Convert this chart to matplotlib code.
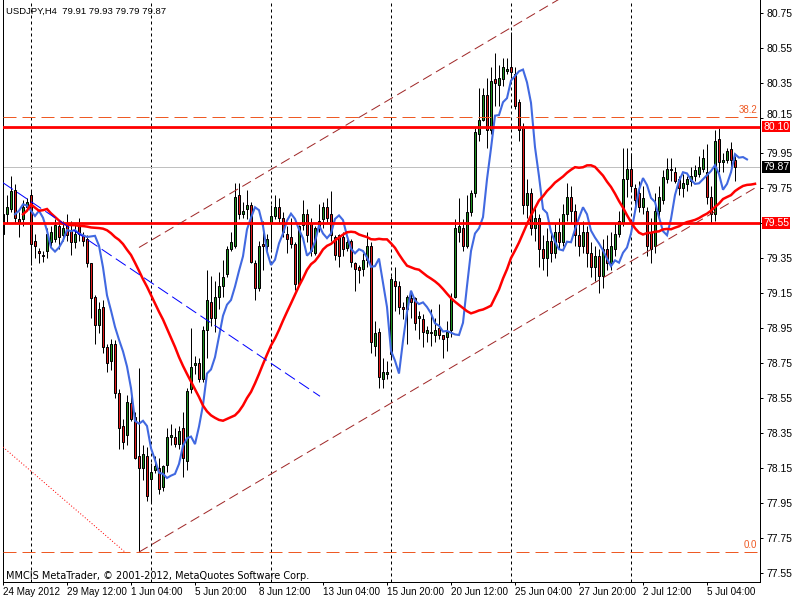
import matplotlib
matplotlib.use("Agg")
import matplotlib.pyplot as plt
import matplotlib.transforms as mtransforms
import pandas as pd

plt.rcParams["font.family"] = ["Liberation Sans", "DejaVu Sans"]

# chart texts
symbol_info = "USDJPY,H4  79.91 79.93 79.79 79.87"
copyright_text = "MMCIS MetaTrader, \u00a9 2001-2012, MetaQuotes Software Corp."

# H4 candles, 24 May 2012 20:00 .. 6 Jul 2012 08:00
opens = [
    79.49, 79.60, 79.63, 79.74, 79.57, 79.57, 79.64, 79.71, 79.45, 79.39,
    79.37, 79.39, 79.44, 79.46, 79.53, 79.48, 79.54, 79.51, 79.44, 79.54,
    79.48, 79.46, 79.32, 79.13, 78.97, 79.07, 78.84, 78.76, 78.86, 78.58,
    78.39, 78.34, 78.52, 78.44, 78.22, 78.15, 78.22, 78.09, 78.14, 78.15,
    78.04, 78.17, 78.33, 78.33, 78.29, 78.38, 78.19, 78.60, 78.74, 78.75,
    78.66, 78.94, 79.10, 79.01, 79.13, 79.19, 79.26, 79.40, 79.42, 79.71,
    79.60, 79.63, 79.65, 79.32, 79.18, 79.43, 79.42, 79.55, 79.59, 79.64,
    79.58, 79.49, 79.47, 79.43, 79.20, 79.54, 79.60, 79.55, 79.38, 79.52,
    79.57, 79.64, 79.60, 79.47, 79.48, 79.47, 79.41, 79.45, 79.32, 79.30,
    79.29, 79.34, 79.42, 78.85, 78.93, 78.66, 78.69, 78.80, 79.22, 79.19,
    79.07, 79.06, 79.12, 79.12, 79.01, 79.00, 78.92, 78.93, 78.91, 78.95,
    78.91, 78.90, 78.94, 79.13, 79.50, 79.52, 79.42, 79.61, 79.72, 80.06,
    80.14, 80.28, 80.08, 80.37, 80.34, 80.37, 80.42, 80.44, 80.40, 80.24,
    80.09, 79.65, 79.72, 79.52, 79.58, 79.40, 79.35, 79.45, 79.38, 79.50,
    79.44, 79.60, 79.70, 79.62, 79.48, 79.42, 79.50, 79.38, 79.30, 79.36,
    79.25, 79.40, 79.32, 79.40, 79.49, 79.55, 79.80, 79.86, 79.75, 79.72,
    79.64, 79.62, 79.50, 79.42, 79.62, 79.68, 79.80, 79.86, 79.84, 79.80,
    79.75, 79.77, 79.79, 79.82, 79.83, 79.86, 79.84, 79.70, 79.60, 80.03,
    79.90, 79.91, 79.97, 79.91,
]
highs = [
    79.65, 79.71, 79.82, 79.77, 79.61, 79.68, 79.69, 79.74, 79.49, 79.41,
    79.39, 79.52, 79.53, 79.57, 79.56, 79.56, 79.60, 79.56, 79.55, 79.58,
    79.50, 79.48, 79.32, 79.14, 79.10, 79.11, 78.86, 78.89, 78.88, 78.60,
    78.43, 78.57, 78.58, 78.47, 78.72, 78.28, 78.27, 78.18, 78.22, 78.21,
    78.17, 78.38, 78.40, 78.38, 78.39, 78.47, 78.61, 78.95, 78.79, 78.78,
    78.96, 79.28, 79.25, 79.22, 79.27, 79.34, 79.42, 79.50, 79.78, 79.78,
    79.67, 79.74, 79.67, 79.34, 79.45, 79.56, 79.49, 79.65, 79.71, 79.69,
    79.61, 79.53, 79.58, 79.44, 79.54, 79.68, 79.63, 79.58, 79.53, 79.66,
    79.67, 79.69, 79.73, 79.48, 79.49, 79.50, 79.46, 79.46, 79.33, 79.31,
    79.38, 79.50, 79.44, 78.99, 78.95, 78.78, 78.76, 79.25, 79.30, 79.22,
    79.10, 79.14, 79.16, 79.13, 79.05, 79.03, 78.96, 79.06, 79.01, 79.09,
    78.91, 78.99, 79.15, 79.57, 79.69, 79.57, 79.71, 79.74, 80.09, 80.32,
    80.32, 80.38, 80.44, 80.52, 80.45, 80.49, 80.49, 80.64, 80.44, 80.26,
    80.12, 79.80, 79.75, 79.64, 79.60, 79.48, 79.52, 79.50, 79.55, 79.58,
    79.66, 79.78, 79.76, 79.66, 79.55, 79.56, 79.53, 79.44, 79.42, 79.40,
    79.46, 79.48, 79.50, 79.55, 79.62, 79.98, 79.98, 79.95, 79.77, 79.79,
    79.76, 79.64, 79.58, 79.72, 79.76, 79.85, 79.92, 79.92, 79.87, 79.82,
    79.83, 79.82, 79.87, 79.88, 79.93, 79.97, 80.00, 79.76, 80.08, 80.09,
    79.95, 79.98, 80.01, 79.93,
]
lows = [
    79.43, 79.55, 79.61, 79.55, 79.47, 79.53, 79.63, 79.31, 79.35, 79.32,
    79.33, 79.35, 79.42, 79.44, 79.40, 79.45, 79.45, 79.37, 79.41, 79.45,
    79.42, 79.30, 79.01, 78.86, 78.92, 78.81, 78.70, 78.71, 78.55, 78.26,
    78.26, 78.28, 78.42, 78.20, 77.67, 78.08, 77.96, 77.95, 78.12, 78.00,
    78.02, 78.13, 78.28, 78.27, 78.26, 78.10, 78.14, 78.58, 78.69, 78.64,
    78.64, 78.78, 78.96, 78.93, 79.06, 79.13, 79.24, 79.39, 79.41, 79.57,
    79.58, 79.57, 79.32, 79.11, 79.16, 79.28, 79.39, 79.40, 79.57, 79.55,
    79.47, 79.38, 79.41, 79.17, 79.20, 79.51, 79.44, 79.36, 79.37, 79.50,
    79.52, 79.55, 79.45, 79.34, 79.30, 79.36, 79.39, 79.30, 79.16, 79.21,
    79.25, 79.30, 78.81, 78.79, 78.61, 78.61, 78.66, 78.78, 79.05, 79.03,
    79.00, 78.86, 79.01, 78.94, 78.89, 78.84, 78.87, 78.85, 78.87, 78.89,
    78.78, 78.82, 78.90, 79.12, 79.44, 79.39, 79.41, 79.59, 79.70, 80.02,
    80.13, 79.98, 80.06, 80.22, 80.22, 80.33, 80.40, 80.38, 80.20, 80.02,
    79.60, 79.58, 79.48, 79.45, 79.30, 79.28, 79.25, 79.33, 79.35, 79.40,
    79.42, 79.56, 79.55, 79.42, 79.36, 79.38, 79.30, 79.24, 79.22, 79.15,
    79.18, 79.28, 79.28, 79.36, 79.47, 79.53, 79.70, 79.74, 79.62, 79.61,
    79.60, 79.36, 79.32, 79.38, 79.58, 79.66, 79.78, 79.79, 79.78, 79.71,
    79.70, 79.73, 79.76, 79.79, 79.81, 79.84, 79.66, 79.55, 79.56, 79.84,
    79.84, 79.89, 79.84, 79.79,
]
closes = [
    79.60, 79.64, 79.73, 79.58, 79.55, 79.64, 79.67, 79.43, 79.42, 79.38,
    79.36, 79.49, 79.50, 79.54, 79.47, 79.52, 79.48, 79.44, 79.49, 79.49,
    79.45, 79.32, 79.12, 78.97, 79.06, 78.84, 78.75, 78.86, 78.58, 78.38,
    78.30, 78.53, 78.43, 78.21, 78.15, 78.23, 77.99, 78.13, 78.16, 78.03,
    78.16, 78.33, 78.34, 78.29, 78.36, 78.21, 78.59, 78.73, 78.75, 78.66,
    78.94, 79.11, 79.01, 79.13, 79.19, 79.24, 79.40, 79.44, 79.70, 79.60,
    79.62, 79.65, 79.33, 79.18, 79.42, 79.42, 79.46, 79.59, 79.64, 79.58,
    79.50, 79.46, 79.43, 79.20, 79.53, 79.60, 79.48, 79.39, 79.52, 79.56,
    79.64, 79.58, 79.48, 79.37, 79.36, 79.40, 79.44, 79.33, 79.29, 79.28,
    79.34, 79.42, 78.87, 78.92, 78.67, 78.70, 78.70, 79.23, 79.19, 79.07,
    79.06, 79.13, 79.10, 78.98, 79.02, 78.93, 78.94, 78.92, 78.94, 78.91,
    78.89, 78.93, 79.12, 79.52, 79.53, 79.42, 79.61, 79.72, 80.07, 80.14,
    80.28, 80.08, 80.36, 80.35, 80.38, 80.44, 80.43, 80.41, 80.22, 80.08,
    79.65, 79.72, 79.52, 79.58, 79.40, 79.35, 79.45, 79.38, 79.50, 79.44,
    79.60, 79.70, 79.62, 79.48, 79.42, 79.50, 79.38, 79.30, 79.36, 79.25,
    79.40, 79.32, 79.42, 79.49, 79.56, 79.80, 79.86, 79.76, 79.68, 79.64,
    79.69, 79.42, 79.40, 79.62, 79.70, 79.81, 79.86, 79.85, 79.79, 79.75,
    79.78, 79.80, 79.82, 79.85, 79.87, 79.92, 79.70, 79.60, 80.02, 79.90,
    79.91, 79.96, 79.91, 79.87,
]

# time axis (bar index of each label) and weekly separators
date_ticks = [0, 16, 32, 48, 64, 80, 96, 112, 128, 144, 160, 176]
date_labels = ["24 May 2012", "29 May 12:00", "1 Jun 04:00", "5 Jun 20:00",
               "8 Jun 12:00", "13 Jun 04:00", "15 Jun 20:00", "20 Jun 12:00",
               "25 Jun 04:00", "27 Jun 20:00", "2 Jul 12:00", "5 Jul 04:00"]
week_separators = [7, 37, 67, 97, 127, 157]

price_ticks = [77.55, 77.75, 77.95, 78.15, 78.35, 78.55, 78.75, 78.95,
               79.15, 79.35, 79.55, 79.75, 79.95, 80.15, 80.35, 80.55, 80.75]

# chart objects
red_levels = [80.10, 79.55]
bid_price = 79.87
fib_names = ["38.2", "0.0"]
fib_prices = [80.156, 77.67]
channel_bars = [34, 188]
channel_lower = [77.67, 79.75]
channel_upper = [79.41, 81.49]
blue_trend_bars = [0, 79.25]
blue_trend_prices = [79.78, 78.56]
fib_diag_bars = [0, 30.5]
fib_diag_prices = [78.27, 77.67]

# moving averages (period, shift)
fast_ma = (3, 3)
slow_ma = (26, 5)

W, H = 800, 600
fig = plt.figure(figsize=(8, 6), dpi=100)
ax = fig.add_axes([2.5 / W, (H - 582) / H, 757.5 / W, 582 / H])
ax.set_xlim(-0.125, 189.25)
ax.set_ylim(77.499, 80.824)

px = 0.72  # one pixel in points

# candles
for i in range(len(closes)):
    o, h, l, c = opens[i], highs[i], lows[i], closes[i]
    ax.vlines(i, l, h, color="black", linewidth=px, zorder=2)
    fill = "#1f8f1f" if c >= o else "#e01b1b"
    ax.bar(i, max(abs(c - o), 0.004), bottom=min(o, c), width=0.55,
           color=fill, edgecolor="black", linewidth=px, zorder=2.5)

# moving averages
cl = pd.Series(closes)
for (period, shift), col, lw in [(fast_ma, "#4169e1", 1.5), (slow_ma, "#ff0000", 1.8)]:
    ma = cl.rolling(period, min_periods=1).mean()
    ax.plot(ma.index + shift, ma.values, color=col, linewidth=lw, zorder=3,
            solid_joinstyle="miter")

# week separators
for b in week_separators:
    ax.axvline(b, color="black", linewidth=px, linestyle=(0, (3, 3)), zorder=1)

# horizontal objects
ax.axhline(bid_price, color="#c0c0c0", linewidth=px, zorder=1)
for lv in red_levels:
    ax.axhline(lv, color="#ff0000", linewidth=2.0, zorder=4)
for name, lv in zip(fib_names, fib_prices):
    ax.axhline(lv, color="#ee5a24", linewidth=px, linestyle=(0, (13, 6)), zorder=4)
    ax.text(188.6, lv + 0.012, name, color="#ee5a24", fontsize=7,
            ha="right", va="bottom", zorder=5)

# trend lines
ax.plot(channel_bars, channel_lower, color="#a02828", linewidth=px,
        linestyle=(0, (10, 5)), zorder=4)
ax.plot(channel_bars, channel_upper, color="#a02828", linewidth=px,
        linestyle=(0, (10, 5)), zorder=4)
ax.plot(blue_trend_bars, blue_trend_prices, color="#0000ff", linewidth=px,
        linestyle=(0, (12, 5)), zorder=4)
ax.plot(fib_diag_bars, fib_diag_prices, color="#ff0000", linewidth=px,
        linestyle=(0, (1, 2)), zorder=4)

# axes style
ax.spines["top"].set_visible(False)
for side in ["left", "bottom", "right"]:
    ax.spines[side].set_linewidth(px)

# price scale; 79.55 is covered by its level box, 80.15 sits just above the 80.10 box
trans = mtransforms.blended_transform_factory(ax.transAxes, ax.transData)
ax.yaxis.tick_right()
ax.set_yticks(price_ticks)
ax.set_yticklabels(["" if round(p, 2) in (79.55, 80.15) else f"{p:.2f}" for p in price_ticks])
ax.tick_params(axis="y", direction="out", length=2.5, width=px, labelsize=7.5, pad=2)
ax.annotate("80.15", xy=(1, 80.15), xycoords=trans, xytext=(4.5, 2.5),
            textcoords="offset points", fontsize=7.5, ha="left", va="center",
            annotation_clip=False)

ax.set_xticks(date_ticks)
ax.set_xticklabels(date_labels)
for lbl in ax.get_xticklabels():
    lbl.set_horizontalalignment("left")
ax.tick_params(axis="x", direction="out", length=2.5, width=px, labelsize=7.1, pad=1)

# price boxes on the scale
box_style = "square,pad=0.06"
for lv in red_levels:
    ax.text(1.004, lv, f"{lv:.2f}", transform=trans, color="white", fontsize=7.5,
            ha="left", va="center", clip_on=False, zorder=6,
            bbox=dict(boxstyle=box_style, facecolor="#ff0000", edgecolor="none"))
ax.text(1.004, bid_price, f"{bid_price:.2f}", transform=trans, color="white", fontsize=7.5,
        ha="left", va="center", clip_on=False, zorder=6,
        bbox=dict(boxstyle=box_style, facecolor="black", edgecolor="none"))

fig.text(6 / W, 1 - 11 / H, symbol_info, fontsize=6.8, ha="left", va="center")
fig.text(6 / W, 1 - 576 / H, copyright_text, fontsize=7, ha="left", va="center",
         family="DejaVu Sans")

fig.savefig("out.png", dpi=100, facecolor="white")
